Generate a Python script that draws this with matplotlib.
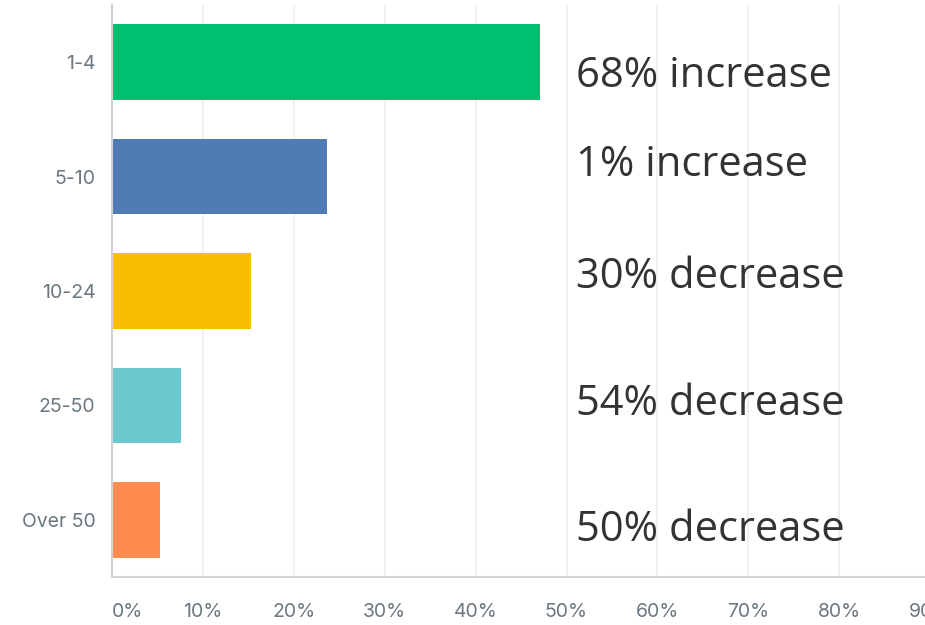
import matplotlib
matplotlib.use("Agg")
import matplotlib.pyplot as plt

# survey answer groups, top to bottom
categories = ["1-4", "5-10", "10-24", "25-50", "Over 50"]
shares = [47.1, 23.6, 15.3, 7.6, 5.3]          # percent of respondents
changes = ["68% increase", "1% increase", "30% decrease",
           "54% decrease", "50% decrease"]
xticks = [0, 10, 20, 30, 40, 50, 60, 70, 80, 90]

colors = ["#00BF6F", "#507CB6", "#F9BE00", "#6BC8CD", "#FF8B4F"]
label_shift = [0.12, -0.10, -0.12, -0.01, 0.09]

fig = plt.figure(figsize=(9.25, 6.25), dpi=100)
ax = fig.add_axes([112 / 925, 48 / 625, (1021 - 112) / 925, 572 / 625])

ypos = list(range(len(categories)))
ax.barh(ypos, shares, height=0.66, color=colors, zorder=3)

ax.set_xlim(0, 100)
ax.set_ylim(len(categories) - 0.5, -0.5)
ax.set_xticks(xticks)
ax.set_xticklabels([f"{t}%" for t in xticks])
ax.set_yticks(ypos)
ax.set_yticklabels(categories)

ax.grid(axis="x", color="#EDEEEE", linewidth=1.2, zorder=0)
ax.grid(axis="y", visible=False)
for s in ["top", "right"]:
    ax.spines[s].set_visible(False)
for s in ["left", "bottom"]:
    ax.spines[s].set_color("#D0D2D3")
    ax.spines[s].set_linewidth(1.5)
    ax.spines[s].set_zorder(4)

ax.tick_params(axis="both", length=0, colors="#6B787F", labelsize=14)
ax.tick_params(axis="x", pad=19)
ax.tick_params(axis="y", pad=12)
for lab in ax.get_xticklabels() + ax.get_yticklabels():
    lab.set_fontfamily("Inter")
# first x label sits flush with the axis, like the survey tool does
ax.get_xticklabels()[0].set_horizontalalignment("left")

for i, txt in enumerate(changes):
    ax.text(51.1, i + label_shift[i], txt, va="center", ha="left",
            fontsize=30, color="#333333", family="Open Sans", zorder=5)

fig.savefig("out.png", dpi=100)
